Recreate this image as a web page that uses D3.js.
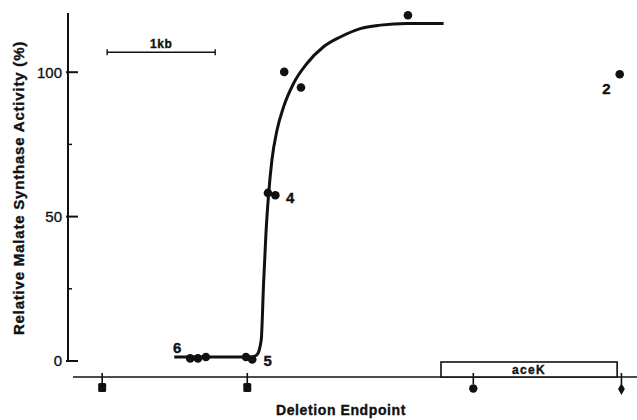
<!DOCTYPE html>
<html>
<head>
<meta charset="utf-8">
<script src="https://cdn.jsdelivr.net/npm/d3@7"></script>
<style>
  body { margin: 0; background: #fff; }
  text { font-family: "Liberation Sans", Arial, sans-serif; fill: #111; stroke: #111; stroke-width: 0.35px; }
</style>
</head>
<body>
<div id="chart"></div>
<script>
// data (x in kb along the map, y in % activity)
var pointKb  = [0.815, 0.886, 0.96, 1.331, 1.389, 1.534, 1.603, 1.685, 1.84, 2.83, 4.79];
var pointAct = [0.9, 0.9, 1.4, 1.4, 0.5, 58.2, 57.4, 100.1, 94.7, 119.7, 99.3];

var curveKb  = [0.667, 1.389, 1.432, 1.472, 1.494, 1.516, 1.540, 1.571, 1.618, 1.679, 1.771, 1.895, 2.049, 2.204, 2.389, 2.574, 2.821, 3.160];
var curveAct = [1.4, 1.4, 2.1, 7.3, 27, 44.3, 57.5, 69.6, 79.9, 88.0, 96.1, 103.0, 108.8, 112.2, 115.1, 116.3, 116.9, 116.9];

var labelText = ["6", "5", "4", "2"];
var labelKb   = [0.694, 1.532, 1.741, 4.667];
var labelAct  = [4.8, 0, 56.7, 94.2];

var markerKb    = [0, 1.343, 3.435, 4.806];
var markerShape = ["square", "square", "circle", "diamond"];

var geneName = "aceK";
var geneKb = [3.136, 4.766];
var barKb = [0.046, 1.046];
var barAct = 106.9;

var majorTicks = [0, 50, 100];
var minorTicks = [25, 75];

var svg = d3.select("#chart").append("svg")
    .attr("width", 637)
    .attr("height", 420);

var x = d3.scaleLinear().domain([-0.27, 4.95]).range([73, 637]);
var y = d3.scaleLinear().domain([0, 120.5]).range([361, 13]);
var mapY = 377;

// y axis
svg.append("line")
    .attr("x1", 68).attr("x2", 68)
    .attr("y1", y(120.5)).attr("y2", y(0))
    .attr("stroke", "#111").attr("stroke-width", 2);

svg.selectAll(".major").data(majorTicks).enter().append("line")
    .attr("x1", 66).attr("x2", 78)
    .attr("y1", d => y(d)).attr("y2", d => y(d))
    .attr("stroke", "#111").attr("stroke-width", 2);

svg.selectAll(".minor").data(minorTicks).enter().append("line")
    .attr("x1", 68).attr("x2", 72)
    .attr("y1", d => y(d)).attr("y2", d => y(d))
    .attr("stroke", "#111").attr("stroke-width", 1.5);

svg.selectAll(".ticklab").data(majorTicks).enter().append("text")
    .attr("x", 62).attr("y", d => y(d))
    .attr("dy", "0.36em")
    .attr("text-anchor", "end")
    .style("font-size", "15px")
    .text(d => d);

svg.append("text")
    .attr("transform", "translate(24," + 188 + ") rotate(-90)")
    .attr("text-anchor", "middle")
    .style("font-size", "15px")
    .style("font-weight", "bold")
    .style("letter-spacing", "0.8px")
    .text("Relative Malate Synthase Activity (%)");

// gene map line
svg.append("line")
    .attr("x1", 73).attr("x2", 637)
    .attr("y1", mapY).attr("y2", mapY)
    .attr("stroke", "#111").attr("stroke-width", 1.6);

svg.append("rect")
    .attr("x", x(geneKb[0])).attr("y", mapY - 15)
    .attr("width", x(geneKb[1]) - x(geneKb[0])).attr("height", 15)
    .attr("fill", "#fff").attr("stroke", "#111").attr("stroke-width", 1.6);

svg.append("text")
    .attr("x", (x(geneKb[0]) + x(geneKb[1])) / 2).attr("y", mapY - 3.5)
    .attr("text-anchor", "middle")
    .style("font-size", "12px").style("font-weight", "bold")
    .style("letter-spacing", "1.3px")
    .text(geneName);

// deletion endpoint markers
markerKb.forEach((k, i) => {
    var cx = x(k);
    svg.append("line")
        .attr("x1", cx).attr("x2", cx)
        .attr("y1", mapY - 4).attr("y2", mapY + 7)
        .attr("stroke", "#111").attr("stroke-width", 1.6);
    var s = markerShape[i];
    if (s == "square") {
        svg.append("rect")
            .attr("x", cx - 4).attr("y", mapY + 6)
            .attr("width", 8).attr("height", 9).attr("rx", 1.5)
            .attr("fill", "#111");
    } else if (s == "circle") {
        svg.append("circle")
            .attr("cx", cx).attr("cy", mapY + 11.5).attr("r", 4.2)
            .attr("fill", "#111");
    } else {
        svg.append("path")
            .attr("d", d3.symbol().type(d3.symbolDiamond).size(40))
            .attr("transform", `translate(${cx},${mapY + 12})`)
            .attr("fill", "#111");
    }
});

// 1 kb scale bar
svg.append("line")
    .attr("x1", x(barKb[0])).attr("x2", x(barKb[1]))
    .attr("y1", y(barAct)).attr("y2", y(barAct))
    .attr("stroke", "#111").attr("stroke-width", 1.6);
barKb.forEach(k => {
    svg.append("line")
        .attr("x1", x(k)).attr("x2", x(k))
        .attr("y1", y(barAct) - 3).attr("y2", y(barAct) + 3)
        .attr("stroke", "#111").attr("stroke-width", 1.4);
});
svg.append("text")
    .attr("x", (x(barKb[0]) + x(barKb[1])) / 2).attr("y", y(barAct) - 4)
    .attr("text-anchor", "middle")
    .style("font-size", "12px").style("font-weight", "bold")
    .style("letter-spacing", "0.5px")
    .text("1kb");

// fitted curve
var line = d3.line()
    .x((d, i) => x(curveKb[i]))
    .y(d => y(d))
    .curve(d3.curveMonotoneX);

svg.append("path")
    .attr("d", line(curveAct))
    .attr("fill", "none")
    .attr("stroke", "#111")
    .attr("stroke-width", 3);

// points
svg.selectAll(".pt").data(pointAct).enter().append("circle")
    .attr("cx", (d, i) => x(pointKb[i]))
    .attr("cy", d => y(d))
    .attr("r", 4.3)
    .attr("fill", "#111");

svg.selectAll(".lab").data(labelText).enter().append("text")
    .attr("x", (d, i) => x(labelKb[i]))
    .attr("y", (d, i) => y(labelAct[i]))
    .attr("dy", "0.36em")
    .attr("text-anchor", "middle")
    .style("font-size", "15px").style("font-weight", "bold")
    .text(d => d);

svg.append("text")
    .attr("x", 341).attr("y", 415)
    .attr("text-anchor", "middle")
    .style("font-size", "14px").style("font-weight", "bold")
    .style("letter-spacing", "0.6px")
    .text("Deletion Endpoint");
</script>
</body>
</html>
